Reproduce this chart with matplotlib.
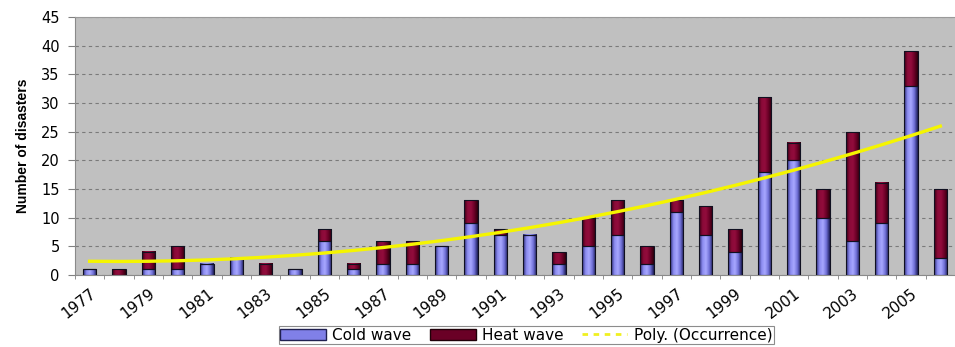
import numpy as np
import matplotlib
matplotlib.use("Agg")
import matplotlib.pyplot as plt
from matplotlib.patches import Patch
from matplotlib.lines import Line2D
from matplotlib.colors import LinearSegmentedColormap

years = list(range(1977, 2007))
cold_wave = [1, 0, 1, 1, 2, 3, 0, 1, 6, 1, 2, 2, 5, 9, 7, 7, 2, 5, 7, 2,
             11, 7, 4, 18, 20, 10, 6, 9, 33, 3]
heat_wave = [0, 1, 3, 4, 0, 0, 2, 0, 2, 1, 4, 4, 0, 4, 1, 0, 2, 5, 6, 3,
             2, 5, 4, 13, 3, 5, 19, 7, 6, 12]
tick_years = list(range(1977, 2006, 2))

# shading for the cylinder look of the bars
cold_cmap = LinearSegmentedColormap.from_list(
    "cold", ["#2a2a78", "#8c8cf0", "#a8a8ff", "#7070d8", "#1c1c55"])
heat_cmap = LinearSegmentedColormap.from_list(
    "heat", ["#3a0012", "#8a0a38", "#920c3c", "#6a0026", "#2a000c"])
shade = np.linspace(0, 1, 64).reshape(1, -1)


def shaded_bars(ax, x, bottom, height, cmap, width):
    for xi, b, h in zip(x, bottom, height):
        if h <= 0:
            continue
        ax.imshow(shade, cmap=cmap, aspect="auto", interpolation="bilinear",
                  extent=(xi - width / 2, xi + width / 2, b, b + h), zorder=2)
    ax.bar(x, height, width, bottom=bottom, facecolor="none",
           edgecolor="#101020", linewidth=0.8, zorder=3)


fig = plt.figure(figsize=(9.55, 3.47), dpi=100)
ax = fig.add_axes([0.0785, 0.2075, 0.9215, 0.7435])
ax.set_facecolor("#c0c0c0")

x = np.array(years)
cold = np.array(cold_wave)
heat = np.array(heat_wave)
width = 0.46

shaded_bars(ax, x, np.zeros(len(x)), cold, cold_cmap, width)
shaded_bars(ax, x, cold, heat, heat_cmap, width)

# second order polynomial trend on the total occurrence
total = cold + heat
idx = np.arange(1, len(x) + 1)
coef = np.polyfit(idx, total, 2)
ax.plot(x, np.polyval(coef, idx), color="#f5f500", linewidth=2.4, zorder=4)

ax.set_xlim(1976.5, 2006.5)
ax.set_ylim(0, 45)
ax.set_yticks(range(0, 46, 5))
ax.yaxis.grid(True, color="#7a7a7a", linestyle=(0, (3, 3)), linewidth=0.8)
ax.set_axisbelow(True)

ax.set_xticks(tick_years)
ax.set_xticklabels([str(y) for y in tick_years], rotation=38,
                   ha="right", va="top", rotation_mode="anchor", fontsize=11)
ax.set_xticks(np.arange(1976.5, 2007, 1), minor=True)
ax.tick_params(axis="x", which="major", length=0, pad=8)
ax.tick_params(axis="x", which="minor", length=3, color="#808080")
ax.tick_params(axis="y", length=5, color="#808080", labelsize=10.5, pad=6)

for side in ["left", "bottom"]:
    ax.spines[side].set_color("#8a8a8a")
ax.spines["top"].set_color("#9a9a9a")
ax.spines["right"].set_visible(False)

ax.set_ylabel("Number of disasters",
              family=["Liberation Sans", "DejaVu Sans"],
              fontsize=10, fontweight="bold", labelpad=8)

handles = [
    Patch(facecolor="#8080e8", edgecolor="#202050"),
    Patch(facecolor="#6a0026", edgecolor="#200008"),
    Line2D([0], [0], color="#f0f020", linestyle=(0, (2, 2)), linewidth=2),
]
leg = fig.legend(handles, ["Cold wave", "Heat wave", "Poly. (Occurrence)"],
                 loc="upper center", bbox_to_anchor=(0.551, 0.06), ncol=3,
                 frameon=True, fancybox=False, fontsize=11,
                 handlelength=3.0, handletextpad=0.4, columnspacing=1.2,
                 borderpad=0.1, borderaxespad=0)
leg.get_frame().set_edgecolor("#707070")
leg.get_frame().set_linewidth(0.8)

fig.savefig("out.png", dpi=100, facecolor="white")
